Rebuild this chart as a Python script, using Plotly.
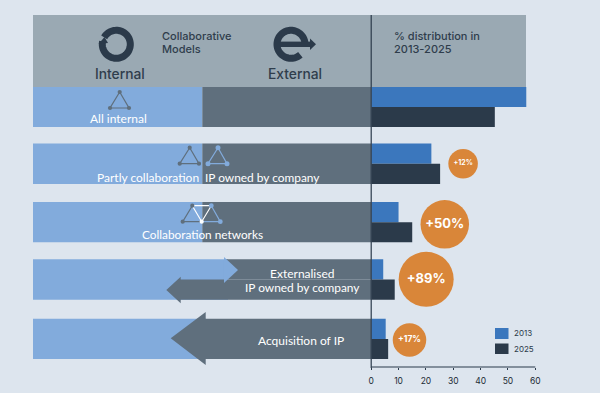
import numpy as np
import plotly.graph_objects as go

# ---- data ----
categories = ["All internal", "Partly collaboration / IP owned by company", "Collaboration networks",
              "Externalised IP owned by company", "Acquisition of IP"]
values_2013 = [56.7, 22.0, 10.0, 4.4, 5.3]
values_2025 = [45.2, 25.2, 15.0, 8.6, 6.2]
change_labels = ["-23%", "+12%", "+50%", "+89%", "+17%"]
tick_values = [0, 10, 20, 30, 40, 50, 60]

# ---- layout constants (pixels of the 600x393 canvas) ----
W, H = 600, 393
X0, X60, AX_Y, TOP = 371.2, 535.3, 367.0, 15.0
ROW_TOP = [87, 143.5, 202, 259.3, 318.7]
ROW_MID = [107, 163.7, 222.3, 279.4, 339]
ROW_BOT = [127, 184, 242.3, 299.7, 359]
BUBBLE_X = [66.5, 33.6, 26.9, 20.1, 14.0]
BUBBLE_Y = [107.3, 163.7, 224.3, 279.3, 340]
BUBBLE_D = [39, 29.5, 48.5, 55, 33.5]
BUBBLE_FS = [11.5, 7, 13, 13, 8.5]
BUBBLE_C = ["#451a55", "#d98639", "#d98639", "#d98639", "#d98639"]

BG, HEAD, LIGHT, DARK = "#dde5ee", "#9aa9b3", "#82abdc", "#5f6f7d"
C13, C25, INK = "#3b77bd", "#2b3a4a", "#2f3d4c"
FONT_A, FONT_B = "Inter", "Lato"

def px(x): return x / W
def py(y): return 1 - y / H
def path(pts):
    return "M " + " L ".join(f"{px(x):.5f},{py(y):.5f}" for x, y in pts) + " Z"
def openpath(pts):
    return "M " + " L ".join(f"{px(x):.5f},{py(y):.5f}" for x, y in pts)

shapes, ann = [], []
def poly(pts, color):
    shapes.append(dict(type="path", path=path(pts), xref="paper", yref="paper", fillcolor=color, line_width=0, layer="below"))
def rect(x0, y0, x1, y1, color):
    poly([(x0, y0), (x1, y0), (x1, y1), (x0, y1)], color)
def stroke(pts, color, w, layer="below"):
    shapes.append(dict(type="path", path=openpath(pts), xref="paper", yref="paper", line=dict(color=color, width=w), layer=layer))
def node(x, y, color, r=2.1):
    shapes.append(dict(type="circle", xref="paper", yref="paper", x0=px(x - r), x1=px(x + r), y0=py(y + r), y1=py(y - r),
                       fillcolor=color, line_width=0, layer="below"))
def text(x, y, s, size, color="white", anchor="center", font=FONT_B, weight=400):
    ann.append(dict(x=px(x), y=py(y), xref="paper", yref="paper", text=s, showarrow=False, xanchor=anchor, yanchor="middle",
                    align=anchor if anchor != "center" else "center",
                    font=dict(size=size, color=color, family=font, weight=weight)))
def triangle(ax, ay, bx, cx, by, color, r=2.1):
    stroke([(ax, ay), (bx, by), (cx, by), (ax, ay)], color, 1.2)
    for p in [(ax, ay), (bx, by), (cx, by)]:
        node(p[0], p[1], color, r)

# header band
rect(33, TOP, 526, 87, HEAD)
# rows 1-3
for i in range(3):
    rect(33, ROW_TOP[i], 202.3, ROW_BOT[i], LIGHT)
    rect(202.3, ROW_TOP[i], X0, ROW_BOT[i], DARK)
# row 4: two opposing arrows over a light base
rect(33, ROW_TOP[3], 228, ROW_BOT[3], LIGHT)
poly([(224, ROW_TOP[3]), (X0, ROW_TOP[3]), (X0, ROW_MID[3]), (224, ROW_MID[3])], DARK)
poly([(166.3, 290), (180.7, 276.7), (180.7, ROW_MID[3]), (X0, ROW_MID[3]), (X0, ROW_BOT[3]), (180.7, ROW_BOT[3]), (180.7, 303.3)], DARK)
poly([(224, 257), (238, 270), (224, 283)], LIGHT)
# row 5: arrow
rect(33, ROW_TOP[4], 206, ROW_BOT[4], LIGHT)
poly([(170.7, 338.3), (205.7, 312), (205.7, ROW_TOP[4]), (X0, ROW_TOP[4]), (X0, ROW_BOT[4]), (205.7, ROW_BOT[4]), (205.7, 365)], DARK)

# triangles
triangle(119.7, 92, 110, 129, 108, DARK)
triangle(189.7, 147.7, 179.7, 199, 163.7, DARK)
triangle(218, 147.7, 208, 227, 163.7, LIGHT, 2.5)
# network icon
stroke([(192.3, 205.7), (182.7, 221.7), (201.7, 221.7)], DARK, 1.2)
stroke([(201.7, 221.7), (220.3, 221.7), (211.3, 205.7)], LIGHT, 1.2)
stroke([(192.3, 205.7), (211.3, 205.7), (201.7, 221.7), (192.3, 205.7)], "white", 1.2)
node(192.3, 205.7, DARK); node(182.7, 221.7, DARK)
node(211.3, 205.7, LIGHT, 2.4); node(220.3, 221.7, LIGHT, 2.4); node(201.7, 221.7, "white")

# "internal" ring icon: gap at upper left
t = np.radians(np.linspace(150, -192, 70))
stroke([(116.3 + 14 * np.cos(a), 44.3 - 14 * np.sin(a)) for a in t], C25, 7)
poly([(98.5, 44), (104.5, 37), (108, 43)], C25)
# "external" e icon: gap at lower right
t = np.radians(np.linspace(5, 312, 70))
stroke([(291 + 14 * np.cos(a), 44.3 - 14 * np.sin(a)) for a in t], C25, 7)
rect(280, 41.6, 311, 47, C25)
poly([(310, 38.5), (316, 44.3), (310, 50)], C25)

# axis baseline and vertical divider
stroke([(X0, 15), (X0, AX_Y + 1)], C25, 1.2, "above")
stroke([(X0, AX_Y), (X60, AX_Y)], C25, 1.2, "above")

# legend
rect(495, 328, 508.5, 339, C13)
rect(495, 343.5, 508.5, 354, C25)
text(512, 333, "2013", 8, C25, "left", FONT_A)
text(512, 348.5, "2025", 8, C25, "left", FONT_A)

# texts
text(159.5, 36.3, "Collaborative", 11, INK, "left", FONT_A, 500)
text(159.5, 49.3, "Models", 11, INK, "left", FONT_A, 500)
text(391.5, 36.3, "% distribution in", 11, INK, "left", FONT_A, 500)
text(391.5, 49.3, "2013-2025", 11, INK, "left", FONT_A, 500)
text(120, 73.5, "Internal", 13.8, INK, "center", FONT_A, 500)
text(295, 73.5, "External", 13.8, INK, "center", FONT_A, 500)
text(118.5, 118.5, categories[0], 12)
text(200.5, 177, "Partly collaboration", 12, "white", "right")
text(203, 177, "IP owned by company", 11.9, "white", "left")
text(202, 234, categories[2], 11.8)
text(302, 273, "Externalised", 12)
text(302, 287, "IP owned by company", 11.9)
text(301.5, 340, categories[4], 12)

y_upper = [m - (m - t0) / 2 for m, t0 in zip(ROW_MID, ROW_TOP)]
y_lower = [m + (b - m) / 2 for m, b in zip(ROW_MID, ROW_BOT)]
h_upper = [m - t0 for m, t0 in zip(ROW_MID, ROW_TOP)]
h_lower = [b - m for m, b in zip(ROW_MID, ROW_BOT)]

fig = go.Figure()
fig.add_bar(y=y_upper, x=values_2013, width=h_upper, orientation="h", name="2013", marker=dict(color=C13, line_width=0),
            customdata=categories, hovertemplate="%{customdata}: %{x}<extra>2013</extra>")
fig.add_bar(y=y_lower, x=values_2025, width=h_lower, orientation="h", name="2025", marker=dict(color=C25, line_width=0),
            customdata=categories, hovertemplate="%{customdata}: %{x}<extra>2025</extra>")
fig.add_scatter(x=BUBBLE_X, y=BUBBLE_Y, mode="markers+text", text=change_labels, textposition="middle center",
                marker=dict(size=BUBBLE_D, color=BUBBLE_C, line_width=0, opacity=1),
                textfont=dict(size=BUBBLE_FS, color="white", family=FONT_A, weight=700),
                cliponaxis=False, hoverinfo="skip", name="change")

fig.update_layout(
    width=W, height=H, margin=dict(l=0, r=0, t=0, b=0, autoexpand=False), autosize=False,
    paper_bgcolor=BG, plot_bgcolor="rgba(0,0,0,0)", showlegend=False, barmode="overlay",
    shapes=shapes, annotations=ann,
    xaxis=dict(domain=[px(X0), px(X60)], range=[0, 60], tickvals=tick_values, ticks="outside", ticklen=2, tickwidth=1,
               tickcolor=C25, showgrid=False, zeroline=False, showline=False, ticklabelstandoff=4,
               tickfont=dict(size=8.5, color="#222b35", family=FONT_A), anchor="y"),
    yaxis=dict(domain=[py(AX_Y), py(TOP)], range=[AX_Y, TOP], visible=False, fixedrange=True),
)
fig.write_html("out.html", post_script="document.body.style.margin='0';", config=dict(displayModeBar=False))
